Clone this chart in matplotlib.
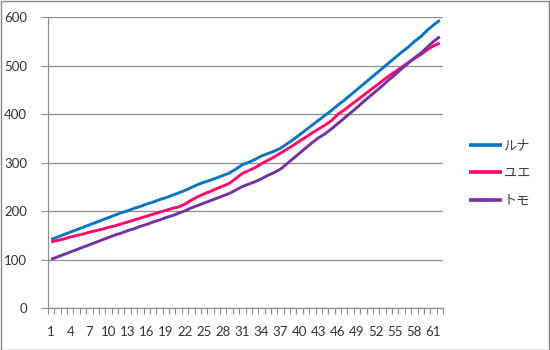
import matplotlib
matplotlib.use("Agg")
import matplotlib.pyplot as plt
from matplotlib.patches import Rectangle
import numpy as np

plt.rcParams['font.family'] = ['Lato', 'Noto Sans CJK JP', 'DejaVu Sans']

days = list(range(1, 63))
series_names = ["ルナ", "ユエ", "トモ"]
luna = [142, 147, 152, 157, 162, 167, 172, 177, 182, 187, 192,
        197, 201, 206, 210, 215, 219, 224, 228, 233, 238, 243, 249, 255,
        260, 264, 269, 274, 279, 287, 296, 301, 307, 314, 319, 324, 330,
        339, 348, 358, 368, 378, 388, 398, 408, 419, 429, 440, 451, 462,
        473, 484, 495, 506, 517, 528, 538, 550, 560, 573, 584, 594]
yue = [137, 140, 143, 147, 150, 153, 157, 160, 163, 167, 170,
       174, 178, 182, 186, 190, 194, 198, 202, 206, 209, 215, 223, 230,
       236, 241, 247, 252, 258, 268, 278, 284, 290, 298, 305, 312, 320,
       328, 336, 345, 353, 362, 370, 378, 387, 400, 409, 419, 429, 439,
       449, 459, 469, 479, 488, 497, 506, 515, 523, 533, 541, 547]
tomo = [101, 106, 111, 116, 121, 126, 131, 136, 141, 146, 151,
        155, 160, 164, 169, 173, 178, 182, 187, 191, 196, 201, 207, 212,
        217, 222, 227, 232, 237, 244, 251, 256, 261, 267, 274, 280, 287,
        298, 309, 320, 331, 342, 352, 360, 370, 381, 392, 403, 414, 426,
        437, 448, 459, 471, 482, 494, 505, 516, 526, 538, 550, 560]
colors = ["#0B74C2", "#FF0A6C", "#7332A2"]
y_ticks = [0, 100, 200, 300, 400, 500, 600]

W, H = 550, 350
fig = plt.figure(figsize=(5.5, 3.5), dpi=100)
ax = fig.add_axes([48 / W, 1 - 308.3 / H, (443 - 48) / W, (308.3 - 17.3) / H])

for name, vals, c in zip(series_names, [luna, yue, tomo], colors):
    ax.plot(days, vals, color=c, lw=2.1, label=name, solid_capstyle='butt')

ax.set_xlim(0.5, 62.5)
ax.set_ylim(0, 600)
ax.set_yticks(y_ticks)
ax.yaxis.grid(True, color="#8f8f8f", lw=0.9)
ax.set_axisbelow(True)
for s in ["top", "right"]:
    ax.spines[s].set_visible(False)
for s in ["left", "bottom"]:
    ax.spines[s].set_color("#8f8f8f")
    ax.spines[s].set_linewidth(0.9)

ax.set_xticks(days[::3])
ax.set_xticklabels([str(d) for d in days[::3]])
ax.set_xticks(np.arange(0.5, 63, 1), minor=True)
ax.tick_params(axis='x', which='major', length=0, pad=13, labelsize=9.5, colors="#333333")
ax.tick_params(axis='x', which='minor', length=4, width=0.8, color="#8f8f8f")
ax.tick_params(axis='y', which='major', length=5, width=0.8, color="#8f8f8f",
               pad=10, labelsize=9.5, labelcolor="#333333")

leg = fig.legend(loc='center left', bbox_to_anchor=(469 / W, 1 - 173.5 / H),
                 frameon=False, handlelength=2.5, handletextpad=0.12,
                 labelspacing=1.1, fontsize=9.5, borderaxespad=0, borderpad=0)
for t in leg.get_texts():
    t.set_color("#404040")
    t.set_fontfamily(['Noto Sans CJK JP', 'DejaVu Sans'])
for h in leg.get_lines():
    h.set_linewidth(2.6)

fig.patches.append(Rectangle((0.5 / W, 0.5 / H), 1 - 1.5 / W, 1 - 1.5 / H,
                             transform=fig.transFigure, fill=False,
                             edgecolor="#888888", lw=1.0))

fig.savefig("out.png", dpi=100)
